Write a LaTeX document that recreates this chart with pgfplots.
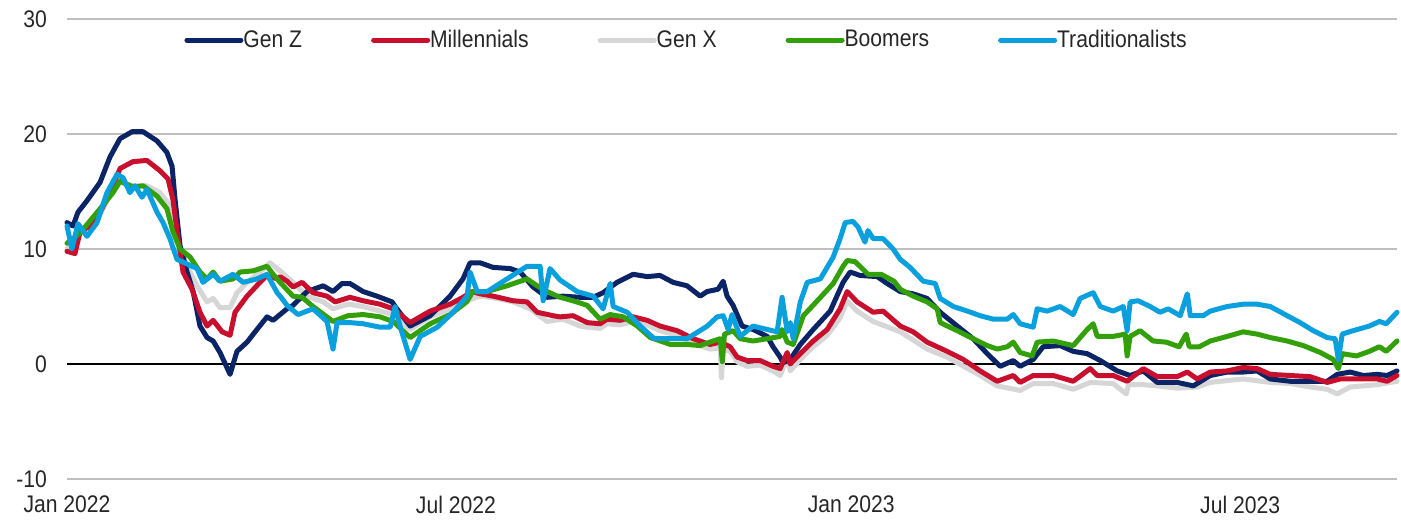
\documentclass[border=0pt]{standalone}
\usepackage{fontspec}
\setmainfont{Liberation Sans}[FakeStretch=0.88]
\usepackage{pgfplots}
\pgfplotsset{compat=1.18}
\definecolor{cgenz}{HTML}{0B2466}
\definecolor{cmill}{HTML}{C8102E}
\definecolor{cgenx}{HTML}{D6D6D6}
\definecolor{cboom}{HTML}{33A00A}
\definecolor{ctrad}{HTML}{0AA0DE}
\definecolor{cgrid}{HTML}{BFBFBF}
\definecolor{ctext}{HTML}{262626}
\begin{document}
\begin{tikzpicture}[x=1pt,y=1pt]
\begin{axis}[
  scale only axis,
  width=665pt, height=230pt,
  xmin=0, xmax=619, ymin=-10, ymax=30,
  axis line style={draw=none},
  tick style={draw=none},
  xtick={0,181,365,546},
  xticklabels={Jan 2022, Jul 2022, Jan 2023, Jul 2023},
  ytick={-10,0,10,20,30},
  ymajorgrids,
  grid style={cgrid, line width=1.2pt},
  extra y ticks={0},
  extra y tick style={grid style={black, line width=1.1pt}, yticklabels={}},
  /pgf/number format/assume math mode=true,
  tick label style={font=\fontsize{12}{14}\selectfont, text=ctext},
  xticklabel style={yshift=-5pt},
  yticklabel style={xshift=-6.5pt},
  clip=false,
  every axis plot/.append style={line width=2.5pt, line join=round, line cap=round},
  legend style={draw=none, fill=none, at={(0.0835,0.954)}, anchor=west,
    legend columns=5, font=\fontsize{12}{14}\selectfont, text=ctext,
    /tikz/every even column/.append style={column sep=32.5pt},
    /tikz/every odd column/.append style={column sep=-2pt}},
  legend image code/.code={\draw[line width=2.5pt, line cap=round, #1] (0pt,0pt) -- (27pt,0pt);},
]
% Gen X (grey)
\addplot[cgenx, forget plot] coordinates {
(0,10.0)(6.1,11.3)(15.4,13.0)(21.4,15.2)(24.7,15.8)(30.7,15.5)(37.2,15.5)(43.3,14.9)(47.9,13.8)(51.2,10.9)(55.9,8.5)(60.5,6.8)(65.2,5.4)(68.0,5.7)(71.2,4.9)(75.9,4.9)(79.1,6.2)(83.8,7.1)(89.8,8.0)(94.5,8.8)(97.8,8.3)(99.2,8.1)(105.2,7.1)(111.7,5.9)(119.2,5.4)(123.8,4.8)(130.8,5.2)(137.8,5.0)(145.7,4.6)(151.8,4.3)(159.7,3.0)(169.0,4.1)(178.3,4.8)(186.0,5.5)(192.3,5.9)(200.1,5.7)(207.6,5.4)(215.5,4.8)(223.4,3.7)(230.9,3.9)(238.8,3.3)(242.1,3.2)(248.1,3.1)(251.4,3.5)(257.4,3.4)(263.5,3.7)(270.0,3.4)(276.0,2.9)(283.9,2.5)(291.4,1.8)(299.3,1.3)(304.0,1.4)(304.6,-1.2)(305.4,1.3)(308.6,1.1)(311.9,0.2)(316.5,-0.2)(322.6,-0.1)(328.6,-0.6)(331.9,-1.0)(335.2,0.5)(336.6,-0.6)(341.3,0.4)(347.3,1.5)(353.8,2.5)(359.8,4.0)(363.1,5.5)(367.7,4.6)(375.2,3.7)(387.8,2.8)(400.3,1.3)(409.6,0.6)(425.0,-1.0)(432.9,-1.9)(443.6,-2.3)(449.7,-1.7)(459.0,-1.7)(468.3,-2.2)(476.2,-1.6)(486.9,-1.7)(493.0,-2.6)(494.0,-1.8)(500.9,-1.8)(507.4,-1.9)(516.7,-2.1)(526.0,-2.0)(532.1,-1.6)(547.4,-1.3)(560.0,-1.6)(569.3,-1.7)(578.6,-2.0)(586.5,-2.2)(591.2,-2.6)(597.2,-2.0)(609.8,-1.8)(619,-1.5)
};
% Gen Z (navy)
\addplot[cgenz, forget plot] coordinates {
(0,12.3)(2.8,12.0)(5.1,13.2)(9.3,14.2)(15.4,15.8)(20.0,18.0)(24.7,19.6)(30.3,20.2)(35.4,20.2)(41.9,19.4)(46.5,18.4)(48.9,17.2)(50.3,14.3)(52.6,10.3)(55.9,8.0)(58.7,6.3)(61.9,3.3)(65.2,2.3)(68.0,2.0)(71.2,1.0)(75.9,-0.9)(79.1,1.1)(83.8,1.9)(88.4,3.0)(93.1,4.1)(95.9,3.8)(102.4,4.8)(105.2,5.1)(111.7,6.3)(119.2,6.8)(123.8,6.3)(128.0,7.0)(131.7,7.0)(137.8,6.3)(144.3,5.9)(151.3,5.4)(152.7,5.0)(159.7,3.3)(169.0,4.2)(178.3,5.9)(184.3,7.4)(187.6,8.8)(192.3,8.8)(198.3,8.4)(206.2,8.3)(210.9,8.0)(216.9,6.7)(223.4,5.8)(230.9,5.9)(238.8,5.8)(244.9,5.8)(249.5,6.2)(256.0,7.1)(263.5,7.8)(270.0,7.6)(276.0,7.7)(282.1,7.1)(288.6,6.8)(294.7,5.9)(297.9,6.3)(303.0,6.5)(305.4,7.2)(307.2,5.9)(310.0,5.1)(314.2,3.3)(319.3,3.0)(325.9,2.4)(328.6,1.5)(331.9,0.6)(333.3,0.1)(336.6,0.4)(341.3,1.7)(347.3,3.0)(355.2,4.6)(361.2,7.1)(364.5,8.0)(369.1,7.7)(377.1,7.6)(381.7,7.0)(387.8,6.3)(393.8,6.1)(400.3,5.7)(406.4,4.5)(414.3,3.3)(421.7,2.2)(428.3,0.9)(434.3,-0.2)(440.4,0.3)(443.6,-0.2)(449.7,0.4)(454.3,1.5)(462.2,1.6)(468.3,1.1)(474.8,0.9)(480.9,0.3)(488.8,-0.6)(494.8,-1.0)(500.9,-0.6)(507.4,-1.6)(516.7,-1.6)(524.2,-1.9)(532.1,-1.0)(540.0,-0.7)(547.4,-0.7)(553.9,-0.6)(560.0,-1.3)(569.3,-1.5)(578.6,-1.5)(586.5,-1.5)(591.2,-0.9)(597.2,-0.7)(603.3,-1.0)(609.8,-0.9)(614.4,-1.0)(619,-0.6)
};
% Millennials (red)
\addplot[cmill, forget plot] coordinates {
(0,9.8)(3.7,9.6)(6.1,11.5)(10.7,12.0)(15.4,13.2)(20.0,14.9)(24.7,17.0)(30.7,17.6)(37.2,17.7)(43.3,16.8)(47.0,16.1)(49.3,14.3)(51.7,10.9)(54.0,8.0)(58.2,6.5)(61.9,4.5)(65.2,3.3)(68.0,3.8)(72.2,2.8)(75.9,2.5)(78.2,4.5)(83.8,5.9)(89.8,7.1)(93.1,7.7)(97.8,7.4)(99.2,7.6)(102.4,7.2)(105.2,6.7)(109.4,7.1)(114.5,6.2)(121.0,5.9)(124.8,5.4)(131.7,5.8)(137.8,5.5)(145.7,5.2)(151.8,4.8)(159.7,3.6)(169.0,4.6)(178.3,5.2)(184.3,5.8)(188.5,6.3)(192.3,6.1)(198.3,5.9)(207.6,5.5)(214.1,5.4)(218.8,4.5)(226.2,4.2)(229.5,4.1)(235.5,4.2)(242.1,3.6)(248.1,3.5)(251.4,3.9)(257.4,3.8)(263.5,4.1)(270.0,3.8)(276.0,3.3)(283.9,2.9)(291.4,2.2)(299.3,1.7)(304.0,1.9)(308.6,1.5)(311.9,0.6)(316.5,0.3)(322.6,0.3)(328.6,-0.2)(331.9,-0.4)(335.2,1.0)(336.6,0.0)(341.3,0.9)(347.3,2.0)(353.8,3.0)(359.8,4.8)(363.1,6.3)(367.7,5.4)(375.2,4.5)(379.8,4.6)(387.8,3.3)(393.8,2.8)(400.3,1.9)(409.6,1.1)(417.1,0.4)(425.0,-0.6)(432.9,-1.5)(440.4,-1.0)(443.6,-1.6)(449.7,-1.0)(459.0,-1.0)(468.3,-1.5)(476.2,-0.4)(479.5,-1.0)(486.9,-1.0)(493.4,-1.5)(500.9,-0.4)(507.4,-1.1)(516.7,-1.1)(521.4,-0.7)(526.0,-1.3)(532.1,-0.7)(540.0,-0.6)(547.4,-0.3)(553.9,-0.4)(560.0,-0.9)(569.3,-1.0)(578.6,-1.1)(586.5,-1.6)(592.6,-1.3)(600.5,-1.3)(609.8,-1.3)(614.4,-1.5)(619,-1.0)
};
% Boomers (green)
\addplot[cboom, forget plot] coordinates {
(0,10.5)(6.1,11.4)(15.4,13.5)(21.4,14.9)(24.7,15.9)(30.7,15.4)(35.4,15.5)(41.9,14.6)(46.5,13.5)(49.3,11.5)(52.6,10.0)(57.3,9.3)(61.9,8.0)(65.2,7.4)(68.0,8.0)(71.2,7.2)(77.3,7.4)(80.6,8.0)(86.6,8.1)(93.1,8.5)(95.9,7.8)(99.2,7.1)(105.2,5.9)(109.4,5.8)(114.5,5.0)(123.8,3.7)(130.8,4.2)(137.8,4.3)(145.7,4.1)(151.8,3.7)(159.7,2.3)(169.0,3.5)(178.3,4.3)(186.0,5.4)(188.9,6.3)(195.4,6.3)(204.8,6.8)(214.1,7.4)(218.8,6.8)(223.4,6.3)(229.5,5.8)(235.5,5.5)(242.1,5.1)(248.1,3.9)(252.8,4.3)(258.9,4.1)(265.4,3.3)(271.5,2.3)(280.8,1.7)(288.6,1.7)(294.7,1.6)(300.7,2.0)(304.0,2.2)(305.0,0.2)(306.0,2.6)(310.0,2.9)(313.3,2.2)(319.3,2.0)(325.9,2.2)(331.9,2.4)(332.8,3.0)(335.2,1.9)(338.0,1.7)(342.7,4.2)(349.2,5.5)(356.6,7.0)(361.2,8.5)(363.1,9.0)(366.8,8.9)(372.8,7.8)(378.9,7.8)(384.9,7.2)(387.8,6.5)(393.8,5.9)(400.3,5.4)(405.0,4.8)(406.4,3.6)(414.3,2.9)(421.7,2.2)(428.3,1.6)(433.0,1.3)(437.6,1.5)(440.4,1.9)(443.6,1.0)(449.2,0.7)(451.5,1.9)(459.0,2.0)(468.3,1.6)(474.8,3.0)(477.6,3.5)(479.5,2.4)(486.9,2.4)(492.5,2.6)(493.4,0.7)(494.8,2.4)(499.4,2.9)(505.5,2.0)(511.6,1.9)(517.6,1.5)(520.9,2.6)(522.3,1.5)(527.0,1.5)(532.1,2.0)(540.0,2.4)(547.4,2.8)(553.9,2.6)(560.0,2.3)(567.9,2.0)(575.4,1.6)(583.3,1.0)(589.3,0.4)(591.7,-0.4)(593.5,0.9)(600.1,0.7)(606.1,1.1)(610.8,1.5)(614.0,1.1)(619,2.0)
};
% Traditionalists (light blue)
\addplot[ctrad, forget plot] coordinates {
(0,12.0)(2.3,10.0)(5.1,12.2)(9.3,11.1)(14.0,12.3)(18.6,14.9)(23.3,16.5)(26.1,16.2)(29.3,14.9)(31.6,15.5)(34.9,14.5)(37.2,15.2)(41.9,13.2)(44.7,12.3)(47.9,10.9)(51.2,9.1)(55.9,8.7)(60.5,8.3)(63.3,7.1)(68.0,7.8)(71.2,7.2)(77.3,7.8)(82.0,7.1)(88.4,7.4)(93.1,7.8)(97.8,6.2)(99.2,5.9)(102.4,5.1)(107.5,4.3)(114.5,4.8)(121.0,3.7)(123.8,1.3)(125.7,3.6)(131.7,3.6)(137.8,3.5)(145.7,3.2)(150.4,3.2)(152.7,5.0)(155.0,3.3)(159.7,0.4)(164.4,2.4)(172.3,3.2)(179.7,4.5)(186.2,5.9)(187.6,8.0)(190.9,6.3)(195.6,6.3)(204.8,7.4)(214.1,8.5)(220.2,8.5)(221.6,5.5)(224.8,8.3)(229.5,7.3)(237.4,6.3)(244.9,5.9)(249.5,4.8)(252.8,7.0)(254.2,5.0)(260.7,4.5)(266.8,3.3)(273.3,2.2)(280.7,2.2)(288.6,2.2)(298.0,3.3)(302.6,4.1)(305.4,4.2)(307.7,3.0)(309.5,4.3)(313.3,2.4)(319.3,3.3)(325.9,3.0)(330.5,2.8)(332.8,5.8)(335.2,2.8)(336.6,3.6)(338.0,2.2)(341.3,5.4)(344.5,7.1)(350.6,7.4)(356.6,9.3)(359.8,10.9)(362.2,12.3)(365.8,12.4)(368.2,11.9)(371.4,10.6)(372.8,11.6)(375.2,10.9)(379.8,10.9)(384.5,10.0)(387.8,9.1)(392.4,8.4)(398.5,7.2)(404.1,7.0)(406.4,5.7)(412.5,5.0)(419.0,4.6)(425.0,4.2)(431.1,3.9)(437.6,3.9)(440.4,4.3)(443.6,3.5)(449.7,3.2)(451.5,4.8)(456.2,4.6)(462.2,5.0)(468.3,4.3)(471.5,5.7)(477.6,6.2)(480.9,5.0)(486.9,4.6)(491.6,5.0)(493.4,2.9)(494.8,5.4)(498.5,5.5)(504.1,5.0)(508.7,4.5)(512.5,4.8)(518.1,4.2)(521.4,6.1)(522.8,4.2)(528.8,4.2)(532.1,4.6)(540.0,5.0)(547.4,5.2)(553.9,5.2)(560.0,5.0)(567.9,4.2)(573.9,3.6)(580.0,2.9)(586.5,2.3)(590.2,2.2)(591.7,0.4)(593.5,2.6)(598.6,2.9)(606.1,3.3)(610.8,3.7)(614.0,3.5)(619,4.5)
};
\addlegendimage{cgenz}\addlegendentry{Gen Z}
\addlegendimage{cmill}\addlegendentry{Millennials}
\addlegendimage{cgenx}\addlegendentry{Gen X}
\addlegendimage{cboom}\addlegendentry{Boomers}
\addlegendimage{ctrad}\addlegendentry{Traditionalists}
\end{axis}
\pgfresetboundingbox
\useasboundingbox (current axis.south west) ++(-33.5pt,-21pt) rectangle ++(700.5pt,260.5pt);
\end{tikzpicture}
\end{document}
